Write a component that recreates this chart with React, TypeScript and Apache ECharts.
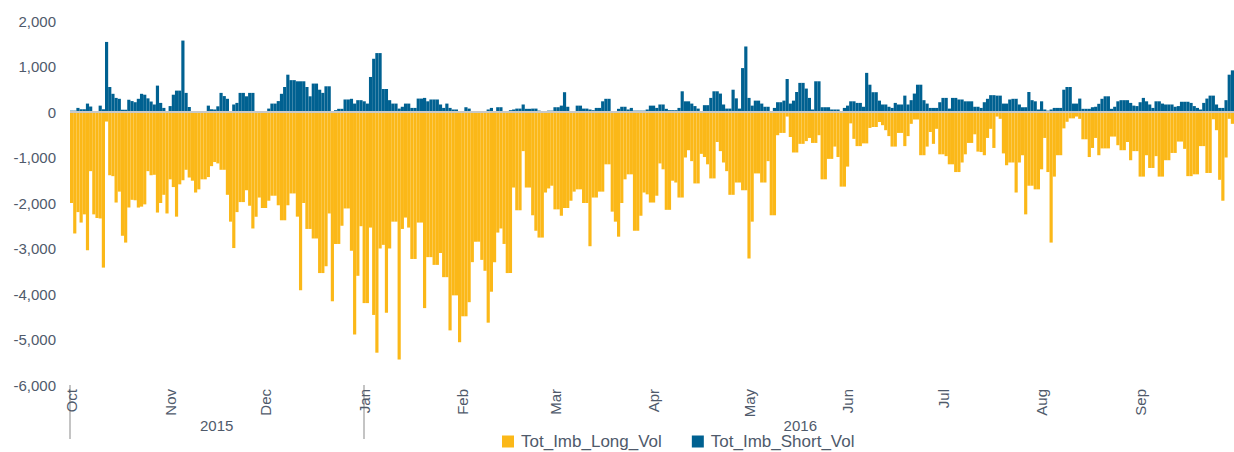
import React, { useEffect, useRef } from "react";
import * as echarts from "echarts";

const START_DATE = "2015-10-01";
const DAY_COUNT = 366;
const MONTH_LABELS = ["Jan", "Feb", "Mar", "Apr", "May", "Jun", "Jul", "Aug", "Sep", "Oct", "Nov", "Dec"];
const YEAR_LABEL_DAYS = ["2015-11-16", "2016-05-17"];
const YEAR_START_DAYS = ["2015-10-01", "2016-01-01"];
const SERIES_NAMES = ["Tot_Imb_Long_Vol", "Tot_Imb_Short_Vol"];

const longVol = [
  -2000, -2670, -2200, -2430, -2250, -3040, -1300, -2250, -2330, -2340, -3420, -210, -1390, -1410, -1990, -1750, -2720, -2870, -2100, -1930,
  -1940, -2100, -2080, -2030, -1300, -1390, -1380, -2210, -2000, -1820, -2230, -1480, -1650, -2300, -1590, -1500, -1270, -1440, -1510, -1770,
  -1700, -1480, -1480, -1430, -1190, -1100, -1130, -1270, -1270, -1820, -2410, -2990, -2200, -1980, -1980, -1720, -2060, -2560, -2300, -1880,
  -2110, -2110, -1950, -1840, -1840, -2050, -2380, -2380, -2050, -1790, -1790, -2300, -3920, -2000, -2570, -2570, -2780, -2780, -3540, -3540,
  -3390, -2230, -4160, -2900, -2900, -2500, -2120, -2120, -3050, -4890, -3600, -2510, -4200, -4200, -2540, -4460, -5290, -3000, -2920, -4410,
  -3000, -2410, -2410, -5440, -2570, -2320, -2540, -3230, -3230, -2430, -2430, -4310, -3190, -3190, -3360, -3360, -3100, -3630, -3630, -4800,
  -4030, -4030, -5060, -4490, -4490, -4180, -3300, -2850, -2850, -3250, -3490, -4630, -3950, -3300, -2650, -2560, -2900, -3540, -3540, -1660,
  -2160, -2160, -860, -1660, -1660, -2270, -2610, -2760, -2760, -1770, -1680, -1620, -2140, -2140, -2280, -2110, -2110, -1950, -1750, -1700,
  -1700, -2000, -2000, -2950, -1880, -1880, -1750, -1750, -1150, -1150, -2190, -2410, -2740, -2000, -1480, -1370, -1370, -2610, -2610, -2280,
  -1770, -1810, -1990, -1990, -1840, -1130, -1260, -2150, -2150, -1510, -1550, -1880, -1880, -1000, -840, -1080, -1570, -1570, -920, -990,
  -1150, -1460, -1460, -660, -860, -1110, -1300, -1820, -1820, -1550, -1550, -1720, -1720, -3220, -2410, -1350, -1350, -1550, -1550, -1080,
  -2270, -2270, -510, -460, -460, -100, -550, -890, -890, -700, -700, -640, -570, -680, -680, -510, -1480, -1480, -1030, -1030,
  -760, -990, -1640, -1640, -1200, -250, -590, -750, -750, -690, -690, -350, -330, -330, -220, -290, -400, -530, -760, -760,
  -460, -460, -750, -530, -260, -165, -165, -950, -950, -760, -440, -700, -370, -930, -930, -970, -1150, -1150, -1320, -1320,
  -1110, -930, -680, -680, -490, -870, -880, -950, -570, -370, -790, -100, -150, -910, -1170, -1110, -1110, -1770, -1110, -950,
  -2250, -1620, -1620, -1700, -1700, -1260, -570, -1320, -2870, -1420, -950, -950, -360, -215, -140, -140, -100, -150, -600, -600,
  -990, -790, -570, -950, -800, -800, -800, -540, -540, -730, -840, -840, -660, -1060, -860, -860, -1420, -1420, -950, -1230,
  -1230, -970, -1420, -1420, -1060, -1060, -900, -900, -650, -650, -810, -1410, -1410, -1370, -1370, -750, -750, -1340, -1340, -160,
  -400, -1490, -1950, -1000, -150, -260,
];

const shortVol = [
  30, 30, 90, 60, 60, 185, 120, 20, 10, 140, 60, 1540, 550, 400, 310, 290, 50, 50, 270, 240,
  215, 290, 400, 380, 300, 230, 165, 580, 200, 90, 10, 130, 380, 470, 470, 1570, 420, 110, 20, 10,
  10, 10, 10, 140, 60, 55, 125, 420, 350, 290, 20, 165, 200, 420, 420, 345, 420, 420, 10, 10,
  10, 10, 75, 185, 185, 240, 400, 550, 820, 700, 700, 675, 675, 675, 550, 345, 625, 625, 490, 420,
  565, 565, 20, 40, 70, 70, 275, 275, 290, 185, 260, 260, 235, 185, 770, 1170, 1295, 1295, 505, 505,
  260, 185, 185, 75, 115, 185, 185, 90, 90, 295, 295, 310, 235, 275, 275, 275, 165, 90, 185, 90,
  55, 55, 0, 5, 105, 75, 5, 5, 5, 10, 10, 55, 90, 20, 105, 105, 20, 20, 40, 55,
  75, 75, 165, 70, 70, 75, 75, 30, 0, 0, 30, 30, 105, 105, 140, 435, 115, 20, 20, 140,
  140, 75, 75, 55, 40, 90, 90, 235, 290, 290, 0, 0, 70, 115, 115, 55, 90, 30, 30, 30,
  30, 55, 140, 140, 90, 165, 165, 70, 40, 40, 40, 90, 455, 235, 235, 185, 130, 75, 20, 150,
  150, 310, 455, 455, 405, 165, 75, 75, 490, 300, 75, 965, 1440, 310, 140, 250, 250, 185, 115, 115,
  20, 90, 215, 215, 250, 725, 185, 250, 440, 640, 640, 515, 310, 55, 675, 675, 105, 105, 105, 55,
  55, 55, 20, 90, 140, 235, 235, 200, 200, 115, 860, 600, 435, 435, 250, 165, 165, 115, 90, 200,
  165, 165, 360, 165, 260, 405, 600, 600, 260, 185, 90, 90, 90, 215, 310, 310, 75, 310, 310, 275,
  275, 235, 235, 235, 115, 115, 90, 215, 290, 370, 370, 360, 360, 185, 185, 275, 290, 290, 165, 105,
  105, 440, 260, 235, 55, 235, 55, 30, 55, 90, 90, 90, 490, 550, 550, 185, 185, 295, 70, 70,
  70, 105, 115, 180, 290, 345, 345, 70, 115, 235, 260, 260, 260, 200, 140, 130, 215, 310, 235, 165,
  90, 235, 235, 185, 165, 165, 165, 115, 130, 225, 225, 225, 200, 130, 90, 55, 200, 295, 360, 360,
  165, 90, 90, 260, 820, 915,
];

function buildDates(): string[] {
  const [y, m, d] = START_DATE.split("-").map(Number);
  const start = Date.UTC(y, m - 1, d);
  const out: string[] = [];
  for (let i = 0; i < DAY_COUNT; i++) {
    out.push(new Date(start + i * 86400000).toISOString().slice(0, 10));
  }
  return out;
}

const FONT = "'Liberation Sans', Arial, sans-serif";
const TEXT_COLOR = "#4f5a6b";

export default function App() {
  const ref = useRef<HTMLDivElement>(null);
  useEffect(() => {
    if (!ref.current) return;
    const chart = echarts.init(ref.current, undefined, { renderer: "svg" });
    const dates = buildDates();
    chart.setOption({
      animation: false,
      textStyle: { fontFamily: FONT },
      grid: { left: 70, right: 0, top: 21, bottom: 67, containLabel: false },
      legend: {
        data: SERIES_NAMES,
        left: 497,
        top: 428,
        icon: "rect",
        itemWidth: 12,
        itemHeight: 12,
        itemGap: 30,
        textStyle: { fontSize: 17, color: TEXT_COLOR, fontFamily: FONT, padding: [0, 0, 0, 2] },
      },
      xAxis: [
        {
          type: "category",
          data: dates,
          boundaryGap: true,
          axisLine: { show: false, onZero: false },
          axisTick: { show: false },
          splitLine: { show: false },
          axisLabel: {
            interval: (_i: number, v: string) => v.slice(8) === "01",
            formatter: (v: string) => MONTH_LABELS[Number(v.slice(5, 7)) - 1],
            rotate: 90,
            margin: 4,
            fontSize: 15,
            color: TEXT_COLOR,
            fontFamily: FONT,
          },
        },
        {
          type: "category",
          data: dates,
          position: "bottom",
          boundaryGap: false,
          axisLine: { show: false, onZero: false },
          axisTick: {
            show: true,
            interval: (_i: number, v: string) => YEAR_START_DAYS.includes(v),
            length: 54,
            lineStyle: { color: "#c4c4c4", width: 2 },
          },
          splitLine: { show: false },
          axisLabel: {
            interval: (_i: number, v: string) => YEAR_LABEL_DAYS.includes(v),
            formatter: (v: string) => v.slice(0, 4),
            margin: 33,
            fontSize: 15,
            lineHeight: 15,
            color: TEXT_COLOR,
            fontFamily: FONT,
          },
        },
      ],
      yAxis: {
        type: "value",
        min: -6000,
        max: 2000,
        interval: 1000,
        axisLine: { show: false },
        axisTick: { show: false },
        splitLine: { show: false },
        axisLabel: {
          margin: 14,
          fontSize: 15,
          color: TEXT_COLOR,
          fontFamily: FONT,
          formatter: (v: number) => v.toLocaleString("en-US"),
        },
      },
      series: [
        {
          name: SERIES_NAMES[0],
          type: "bar",
          stack: "imb",
          xAxisIndex: 0,
          barCategoryGap: "0%",
          itemStyle: { color: "#fbb818" },
          data: longVol,
        },
        {
          name: SERIES_NAMES[1],
          type: "bar",
          stack: "imb",
          xAxisIndex: 0,
          barCategoryGap: "0%",
          itemStyle: { color: "#006191" },
          data: shortVol,
          markLine: {
            silent: true,
            symbol: "none",
            label: { show: false },
            lineStyle: { color: "#c8c8c8", width: 2, type: "solid" },
            data: [{ yAxis: 0 }],
          },
        },
      ],
    });
    return () => chart.dispose();
  }, []);
  return (
    <div
      ref={ref}
      style={{ position: "absolute", left: 0, top: 0, width: 1234, height: 452 }}
    />
  );
}
